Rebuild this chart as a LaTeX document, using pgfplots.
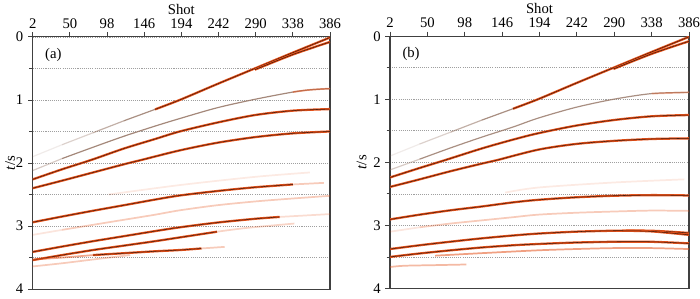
\documentclass[border=0pt]{standalone}
\usepackage{fontspec}
\setmainfont{Liberation Serif}
\usepackage{pgfplots}
\usepackage{pgfplotstable}
\pgfplotsset{compat=1.18}

\definecolor{ored}{HTML}{E4521B}
\definecolor{brn}{HTML}{9A7B6C}

% ---------- panel (a) ----------
\pgfplotstableread{
s t
2 1.90
40 1.71
80 1.52
120 1.33
160 1.15
192 1.00
240 0.75
289 0.50
338 0.25
386 0.01
}\Aone
\pgfplotstableread{
s t
289 0.52
338 0.28
386 0.08
}\Aonep
\pgfplotstableread{
s t
2 2.12
40 1.93
80 1.75
120 1.575
160 1.415
192 1.295
240 1.125
289 0.99
338 0.875
360 0.84
386 0.82
}\Atwo
\pgfplotstableread{
s t
2 2.26
40 2.10
78 1.95
120 1.77
160 1.62
192 1.50
240 1.36
289 1.24
338 1.17
386 1.145
}\Athree
\pgfplotstableread{
s t
2 2.40
40 2.28
80 2.15
120 2.02
143 1.95
192 1.80
240 1.68
289 1.59
338 1.53
386 1.50
}\Afour
\pgfplotstableread{
s t
2 2.94
40 2.849
80 2.757
120 2.669
160 2.58
192 2.515
240 2.445
289 2.385
338 2.34
378 2.315
}\Afive
\pgfplotstableread{
s t
100 2.50
192 2.35
289 2.22
360 2.15
}\Afiveb
\pgfplotstableread{
s t
2 3.14
40 3.06
80 2.98
120 2.90
160 2.82
192 2.75
240 2.67
289 2.61
330 2.57
386 2.52
}\Asix
\pgfplotstableread{
s t
2 3.41
40 3.325
80 3.24
120 3.16
160 3.08
192 3.02
240 2.945
289 2.885
321 2.855
386 2.81
}\Aseven
\pgfplotstableread{
s t
2 3.54
40 3.46
80 3.38
120 3.31
160 3.24
192 3.18
240 3.09
278 3.03
340 2.96
}\Aeight
\pgfplotstableread{
s t
2 3.53
40 3.50
80 3.46
120 3.43
160 3.40
192 3.38
220 3.355
250 3.33
}\Anine
\pgfplotstableread{
s t
2 3.64
40 3.59
80 3.53
128 3.46
}\Aten

% ---------- panel (b) ----------
\pgfplotstableread{
s t
2 2.12
40 1.95
80 1.77
120 1.60
160 1.44
192 1.30
240 1.13
289 1.00
338 0.91
386 0.89
}\Btwo
\pgfplotstableread{
s t
2 2.24
40 2.09
74 1.96
120 1.78
160 1.64
192 1.54
240 1.42
289 1.33
338 1.27
386 1.25
}\Bthree
\pgfplotstableread{
s t
2 2.39
40 2.27
80 2.14
120 2.02
141 1.96
192 1.80
240 1.71
289 1.66
338 1.63
386 1.62
}\Bfour
\pgfplotstableread{
s t
2 2.905
40 2.83
80 2.76
120 2.70
160 2.635
192 2.595
240 2.555
289 2.53
338 2.52
386 2.525
}\Bfive
\pgfplotstableread{
s t
150 2.48
192 2.40
289 2.32
380 2.27
}\Bfiveb
\pgfplotstableread{
s t
2 3.10
40 3.03
80 2.97
120 2.92
160 2.87
192 2.83
240 2.80
289 2.78
338 2.765
386 2.77
}\Bsix
\pgfplotstableread{
s t
2 3.375
40 3.315
80 3.258
120 3.205
160 3.16
192 3.13
240 3.10
289 3.085
338 3.085
386 3.12
}\Bseven
\pgfplotstableread{
s t
300 3.085
338 3.095
386 3.15
}\Bsevenp
\pgfplotstableread{
s t
2 3.50
40 3.445
80 3.395
120 3.35
160 3.315
192 3.295
240 3.272
289 3.26
338 3.26
386 3.285
}\Beight
\pgfplotstableread{
s t
60 3.48
120 3.44
192 3.395
240 3.375
289 3.36
338 3.36
386 3.375
}\Bnine
\pgfplotstableread{
s t
2 3.66
20 3.64
60 3.63
100 3.62
}\Bten

\newcommand{\evStrong}[3]{%
  \addplot[no marks, smooth, ored, line width=1.7pt, restrict x to domain=#2:#3] table {#1};
  \addplot[no marks, smooth, black, opacity=0.7, line width=0.4pt, restrict x to domain=#2:#3] table {#1};
}
\newcommand{\evFaint}[4]{%
  \addplot[no marks, smooth, ored, opacity=#4, line width=1.3pt, restrict x to domain=#2:#3] table {#1};
}
\newcommand{\evBrown}[4]{%
  \addplot[no marks, smooth, brn, opacity=#4, line width=0.9pt, restrict x to domain=#2:#3] table {#1};
}

\pgfplotsset{panel/.style={
  scale only axis, width=223pt, height=189.2pt,
  xmin=2, xmax=386, ymin=0, ymax=4, y dir=reverse,
  xtick={2,50,...,386}, xtick pos=right, xticklabel pos=right,
  ytick={0,1,2,3,4}, minor ytick={0.5,1.5,2.5,3.5}, ytick pos=left,
  tick align=outside, major tick length=3.5pt, minor tick length=2.5pt,
  ymajorgrids, yminorgrids,
  major grid style={gray!75, dash pattern=on 0.8pt off 0.8pt, line width=0.5pt},
  minor grid style={gray!75, dash pattern=on 0.8pt off 0.8pt, line width=0.5pt},
  xlabel={Shot}, ylabel={\textit{t}/s},
  xlabel style={at={(axis description cs:0.5,1)}, anchor=base, yshift=17pt},
  tick label style={font=\fontsize{11}{13}\selectfont},
  xticklabel style={yshift=-0.8pt},
  label style={font=\fontsize{11}{13}\selectfont},
  /pgf/number format/assume math mode=true,
  axis line style={black!75, line width=0.8pt},
  tick style={black!75, line width=0.6pt},
  clip=true,
}}

\begin{document}
\begin{tikzpicture}
\useasboundingbox (0,0) rectangle (525pt,224.25pt);
\begin{axis}[panel, at={(24.5pt,7.4pt)}, anchor=south west,
  ylabel style={at={(axis description cs:-0.076,0.5)}, anchor=center}]
  \evBrown{\Aone}{2}{40}{0.15}
  \evBrown{\Aone}{40}{80}{0.35}
  \evBrown{\Aone}{80}{120}{0.6}
  \evBrown{\Aone}{120}{160}{0.85}
  \evStrong{\Aone}{160}{386}
  \evStrong{\Aonep}{289}{386}
  \evBrown{\Atwo}{2}{40}{0.4}
  \evBrown{\Atwo}{40}{386}{0.9}
  \evFaint{\Atwo}{320}{386}{0.5}
  \evStrong{\Athree}{2}{386}
  \evStrong{\Afour}{2}{386}
  \evStrong{\Afive}{2}{338}
  \evFaint{\Afive}{338}{378}{0.3}
  \evFaint{\Afiveb}{100}{360}{0.12}
  \evFaint{\Asix}{2}{40}{0.15}
  \evFaint{\Asix}{40}{386}{0.3}
  \evStrong{\Aseven}{2}{321}
  \evFaint{\Aseven}{321}{386}{0.2}
  \evStrong{\Aeight}{2}{240}
  \evFaint{\Aeight}{240}{340}{0.25}
  \evFaint{\Anine}{2}{80}{0.5}
  \evStrong{\Anine}{80}{220}
  \evFaint{\Anine}{220}{250}{0.3}
  \evFaint{\Aten}{2}{128}{0.3}
  \node[anchor=north west, font=\fontsize{11}{13}\selectfont] at (axis cs:12,0.1) {(a)};
\end{axis}
\begin{axis}[panel, width=224.25pt, at={(292.5pt,7.9pt)}, anchor=south west,
  ylabel style={at={(axis description cs:-0.095,0.5)}, anchor=center}]
  \evBrown{\Aone}{2}{40}{0.15}
  \evBrown{\Aone}{40}{80}{0.35}
  \evBrown{\Aone}{80}{120}{0.6}
  \evBrown{\Aone}{120}{160}{0.85}
  \evStrong{\Aone}{160}{386}
  \evStrong{\Aonep}{289}{386}
  \evBrown{\Btwo}{2}{40}{0.4}
  \evBrown{\Btwo}{40}{386}{0.85}
  \evFaint{\Btwo}{330}{386}{0.35}
  \evStrong{\Bthree}{2}{386}
  \evStrong{\Bfour}{2}{386}
  \evStrong{\Bfive}{2}{386}
  \evFaint{\Bfiveb}{150}{380}{0.12}
  \evFaint{\Bsix}{2}{40}{0.15}
  \evFaint{\Bsix}{40}{386}{0.3}
  \evStrong{\Bseven}{2}{386}
  \evStrong{\Bsevenp}{300}{386}
  \evStrong{\Beight}{2}{386}
  \evFaint{\Bnine}{60}{386}{0.55}
  \evFaint{\Bten}{2}{100}{0.4}
  \node[anchor=north west, font=\fontsize{11}{13}\selectfont] at (axis cs:12,0.1) {(b)};
\end{axis}
\end{tikzpicture}
\end{document}
